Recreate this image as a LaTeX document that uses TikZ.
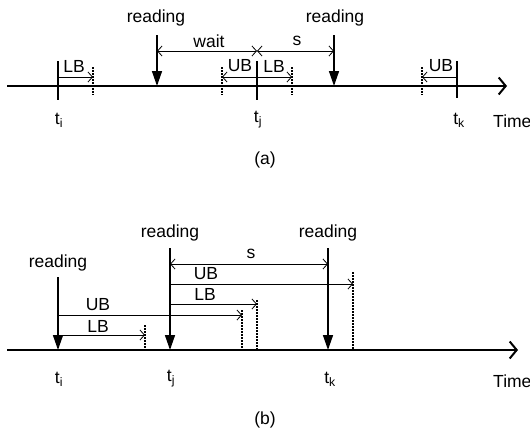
\documentclass[tikz,border=0pt]{standalone}
\usepackage{fontspec}
\setmainfont{Liberation Sans}
\usetikzlibrary{arrows.meta}
\tikzset{
  tickline/.style={line width=2pt},
  axisline/.style={line width=2pt, -{Straight Barb[length=7pt,width=17pt,line width=2pt]}},
  readarrow/.style={line width=1.5pt, -{Triangle[length=15pt,width=10pt]}},
  meas/.style={line width=0.8pt, -{Straight Barb[length=4.5pt,width=10pt,line width=0.8pt]}},
  measboth/.style={line width=0.8pt, {Straight Barb[length=4.5pt,width=10pt,line width=0.8pt]}-{Straight Barb[length=4.5pt,width=10pt,line width=0.8pt]}},
  bound/.style={line width=1.3pt, dash pattern=on 1.5pt off 1.5pt},
  lbl/.style={font=\fontsize{17.5}{20}\selectfont, inner sep=0pt}
}
\begin{document}
\begin{tikzpicture}[x=1pt,y=-1pt]
\useasboundingbox (0,0) rectangle (530,434);
% ---------------- panel (a) ----------------
\coordinate (aAx0) at (7,86);
\coordinate (aAx1) at (507,86);
\draw[axisline] (aAx0) -- (aAx1);
% ticks
\coordinate (aTi0) at (58,61);  \coordinate (aTi1) at (58,100);
\coordinate (aTj0) at (257,61); \coordinate (aTj1) at (257,100);
\coordinate (aTk0) at (457,61); \coordinate (aTk1) at (457,98);
\draw[tickline] (aTi0) -- (aTi1);
\draw[tickline] (aTj0) -- (aTj1);
\draw[tickline] (aTk0) -- (aTk1);
% LB at ti
\coordinate (aLBi0) at (58,77); \coordinate (aLBi1) at (93,77);
\draw[meas] (aLBi0) -- (aLBi1);
\coordinate (aDi0) at (93,67); \coordinate (aDi1) at (93,95);
\draw[bound] (aDi0) -- (aDi1);
\node[lbl] (aLBiL) at (74,66) {LB};
% reading arrows
\coordinate (aR10) at (157,35); \coordinate (aR11) at (157,86);
\draw[readarrow] (aR10) -- (aR11);
\node[lbl] (aR1L) at (156,18) {reading};
\coordinate (aR20) at (334,35); \coordinate (aR21) at (334,86);
\draw[readarrow] (aR20) -- (aR21);
\node[lbl] (aR2L) at (335,18) {reading};
% wait and s
\coordinate (aW0) at (157,51); \coordinate (aW1) at (257,51); \coordinate (aS1) at (334,51);
\draw[measboth] (aW0) -- (aW1);
\draw[measboth] (aW1) -- (aS1);
\node[lbl] (aWL) at (209,41) {wait};
\node[lbl] (aSL) at (297,41) {s};
% UB / LB at tj
\coordinate (aUBj0) at (257,77); \coordinate (aUBj1) at (222,77); \coordinate (aLBj1) at (292,77);
\draw[meas] (aUBj0) -- (aUBj1);
\draw[meas] (aUBj0) -- (aLBj1);
\coordinate (aDj0) at (222,67); \coordinate (aDj1) at (222,95);
\coordinate (aDj2) at (292,67); \coordinate (aDj3) at (292,95);
\draw[bound] (aDj0) -- (aDj1);
\draw[bound] (aDj2) -- (aDj3);
\node[lbl] (aUBjL) at (240,66) {UB};
\node[lbl] (aLBjL) at (274,66) {LB};
% UB at tk
\coordinate (aUBk0) at (457,77); \coordinate (aUBk1) at (422,77);
\draw[meas] (aUBk0) -- (aUBk1);
\coordinate (aDk0) at (422,67); \coordinate (aDk1) at (422,95);
\draw[bound] (aDk0) -- (aDk1);
\node[lbl] (aUBkL) at (441,66) {UB};
% time labels
\node[lbl] (aTiL) at (59,120) {t\textsubscript{i}};
\node[lbl] (aTjL) at (258,120) {t\textsubscript{j}};
\node[lbl] (aTkL) at (459,120) {t\textsubscript{k}};
\node[lbl,anchor=west] (aTime) at (493,121) {Time};
\node[lbl] (aCap) at (265,160) {(a)};
% ---------------- panel (b) ----------------
\coordinate (bAx0) at (7,350);
\coordinate (bAx1) at (518,350);
\draw[axisline] (bAx0) -- (bAx1);
% reading arrows
\coordinate (bRi0) at (58,277);  \coordinate (bRi1) at (58,350);
\coordinate (bRj0) at (170,248); \coordinate (bRj1) at (170,350);
\coordinate (bRk0) at (328,248); \coordinate (bRk1) at (328,350);
\draw[readarrow] (bRi0) -- (bRi1);
\draw[readarrow] (bRj0) -- (bRj1);
\draw[readarrow] (bRk0) -- (bRk1);
\node[lbl] (bRiL) at (58,263) {reading};
\node[lbl] (bRjL) at (170,233) {reading};
\node[lbl] (bRkL) at (328,233) {reading};
% s
\coordinate (bS0) at (170,264); \coordinate (bS1) at (328,264);
\draw[measboth] (bS0) -- (bS1);
\node[lbl] (bSL) at (251,254) {s};
% UB / LB from tj
\coordinate (bUBj0) at (170,284); \coordinate (bUBj1) at (353,284);
\draw[meas] (bUBj0) -- (bUBj1);
\coordinate (bDUBj0) at (353,272); \coordinate (bDUBj1) at (353,350);
\draw[bound] (bDUBj0) -- (bDUBj1);
\node[lbl] (bUBjL) at (206,274) {UB};
\coordinate (bLBj0) at (170,304); \coordinate (bLBj1) at (257,304);
\draw[meas] (bLBj0) -- (bLBj1);
\coordinate (bDLBj0) at (257,300); \coordinate (bDLBj1) at (257,350);
\draw[bound] (bDLBj0) -- (bDLBj1);
\node[lbl] (bLBjL) at (205,294) {LB};
% UB / LB from ti
\coordinate (bUBi0) at (58,315); \coordinate (bUBi1) at (242,315);
\draw[meas] (bUBi0) -- (bUBi1);
\coordinate (bDUBi0) at (242,310); \coordinate (bDUBi1) at (242,350);
\draw[bound] (bDUBi0) -- (bDUBi1);
\node[lbl] (bUBiL) at (98,305) {UB};
\coordinate (bLBi0) at (58,335); \coordinate (bLBi1) at (145,335);
\draw[meas] (bLBi0) -- (bLBi1);
\coordinate (bDLBi0) at (145,325); \coordinate (bDLBi1) at (145,350);
\draw[bound] (bDLBi0) -- (bDLBi1);
\node[lbl] (bLBiL) at (98,326) {LB};
% time labels
\node[lbl] (bTiL) at (59,379) {t\textsubscript{i}};
\node[lbl] (bTjL) at (171,379) {t\textsubscript{j}};
\node[lbl] (bTkL) at (330,379) {t\textsubscript{k}};
\node[lbl,anchor=west] (bTime) at (493,381) {Time};
\node[lbl] (bCap) at (265,420) {(b)};
\end{tikzpicture}
\end{document}
